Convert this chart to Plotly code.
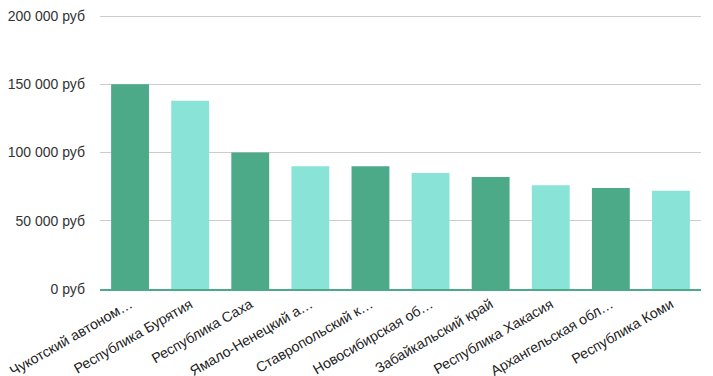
import plotly.graph_objects as go

categories = ["Чукотский автоном…", "Республика Бурятия", "Республика Саха",
              "Ямало-Ненецкий а…", "Ставропольский к…", "Новосибирская об…",
              "Забайкальский край", "Республика Хакасия", "Архангельская обл…",
              "Республика Коми"]
values = [150000, 138000, 100000, 90000, 90000, 85000, 82000, 76000, 74000, 72000]
tick_vals = [0, 50000, 100000, 150000, 200000]
tick_text = ["0 руб", "50 000 руб", "100 000 руб", "150 000 руб", "200 000 руб"]

dark = "#4caa88"
light = "#8ae3d7"
colors = [dark if i % 2 == 0 else light for i in range(len(values))]

fig = go.Figure(go.Bar(x=categories, y=values, marker=dict(color=colors, line=dict(width=0))))

# page shows the figure offset by the default 8px body margin
fig.update_layout(
    width=713, height=376,
    margin=dict(l=92, r=20, t=7, b=95, autoexpand=False),
    paper_bgcolor="white", plot_bgcolor="white",
    bargap=0.37,
    showlegend=False,
    font=dict(family="Liberation Sans, Arial, sans-serif", size=14, color="#333333"),
)
fig.update_xaxes(tickangle=-30, showgrid=False, showline=True, linecolor=dark, linewidth=1.5,
                 ticks="", automargin=False, ticklabeloverflow="allow",
                 tickfont=dict(size=14.2, color="#222222"))
fig.update_yaxes(range=[0, 200800], tickvals=tick_vals, ticktext=tick_text,
                 showgrid=True, gridcolor="#cccccc", gridwidth=1, zeroline=False,
                 showline=False, ticks="", ticklabelstandoff=14, automargin=False,
                 ticklabeloverflow="allow",
                 tickfont=dict(size=14, color="#333333"))

fig.write_html("out.html")
